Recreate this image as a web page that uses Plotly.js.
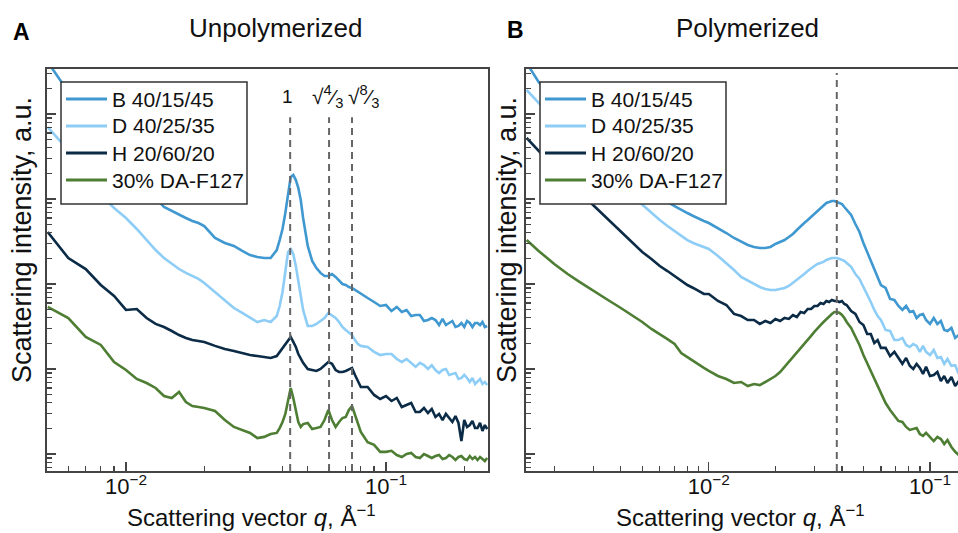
<!DOCTYPE html>
<html>
<head>
<meta charset="utf-8">
<script src="https://cdn.plot.ly/plotly-3.0.1.min.js"></script>
<style>html,body{margin:0;padding:0;background:#fff;}#chart{width:958px;height:533px;}</style>
</head>
<body>
<div id="chart"></div>
<script>
// ---------- Data ----------
const seriesNames = ['B 40/15/45', 'D 40/25/35', 'H 20/60/20', '30% DA-F127'];
const seriesColors = ['#4098d0', '#8dcdf6', '#0b2b46', '#4e7e33'];

// Panel A: unpolymerized
const qA = [0.005,0.006,0.007,0.008,0.009,0.010,0.011,0.012,0.013,0.014,0.015,0.016,0.017,0.018,0.019,0.020,
  0.022,0.024,0.026,0.028,0.030,0.032,0.034,0.036,
  0.038,0.039,0.040,0.041,0.042,0.043,0.044,0.045,0.046,0.047,0.048,
  0.050,0.052,0.054,0.056,0.058,0.060,0.062,0.064,0.066,0.068,0.070,0.072,0.074,0.076,0.078,0.080,
  0.085,0.090,0.095,
  0.100,0.105,0.110,0.115,0.120,0.125,0.130,0.135,0.140,0.145,0.150,0.155,0.160,0.165,0.170,0.175,
  0.180,0.185,0.190,0.195,0.200,0.205,0.210,0.215,0.220,0.225,0.230,0.235,0.240,0.245];
const bA = [40900,18200,10300,6310,3980,2650,1870,1350,1030,805,722,648,598,551,522,481,
  348,304,280,245,219,208,202,202,
  251,329,444,684,1180,1820,1920,1670,1350,973,598,
  280,187,154,135,124,124,131,121,111,100,97.3,92.2,89.8,85.0,80.5,76.3,
  68.4,61.4,55.1,
  56.6,48.1,53.7,46.9,49.5,42.0,43.2,43.2,36.7,37.7,39.8,37.7,32.9,38.8,32.9,34.8,
  36.7,31.2,32.1,34.8,31.2,36.7,34.8,31.2,34.8,34.8,32.9,35.7,31.2,32.1];
const dA = [7030,3770,2320,1110,784,598,444,329,251,202,172,150,135,124,115,103,
  80.5,64.8,52.2,45.6,39.8,35.7,37.7,35.7,
  42.0,55.1,80.5,146,238,258,225,163,109,74.2,49.5,
  32.1,32.1,33.9,36.7,39.8,45.6,42.0,39.8,35.7,31.2,28.8,26.5,25.1,21.9,19.7,18.7,
  18.2,15.9,14.6,
  15.0,15.0,13.1,12.1,13.1,11.8,10.6,11.8,11.1,10.0,11.1,9.73,8.98,9.73,10.0,8.50,
  8.74,8.98,7.63,7.84,8.50,7.84,7.03,7.84,6.66,7.22,7.63,6.66,7.03,6.48];
const hA = [409,202,150,97.3,72.2,49.5,50.8,39.8,33.9,31.2,28.0,25.1,23.2,21.9,21.4,20.8,
  18.7,17.2,16.3,15.4,14.6,14.2,13.8,13.5,
  14.2,15.9,17.7,19.7,21.9,23.8,20.8,18.2,15.0,13.1,11.8,
  10.0,9.73,9.48,10.0,10.9,12.1,11.5,9.73,9.22,9.22,9.48,10.0,10.3,8.50,7.03,6.14,
  6.14,4.95,4.44,
  4.81,4.20,4.56,3.57,3.77,3.98,3.12,3.12,3.48,3.04,3.39,2.73,2.96,2.51,2.96,2.65,
  2.38,2.80,2.32,1.42,2.51,2.08,2.19,2.45,2.02,2.02,2.32,1.87,2.19,1.97];
const fA = [53.7,39.8,23.8,19.2,12.1,9.73,7.63,6.84,5.98,4.81,4.56,5.37,4.09,3.67,3.57,3.48,
  3.21,2.51,2.08,1.92,1.77,1.54,1.59,1.72,
  1.77,2.02,2.38,2.96,4.32,5.98,4.56,3.12,2.38,2.08,2.25,
  2.32,1.97,2.02,2.08,2.51,3.29,2.51,2.08,2.38,2.65,2.73,3.29,3.67,2.88,2.19,1.82,
  1.38,1.28,1.06,
  1.06,1.09,0.973,0.922,1.00,1.03,0.922,0.898,1.00,0.947,0.898,0.947,0.973,0.873,0.898,0.973,
  0.922,0.850,0.922,0.947,0.873,0.850,0.947,0.873,0.922,0.850,0.922,0.873,0.827,0.898];
const peaksA = [0.0428, 0.0604, 0.074];
const peakLabelsA = ['1', '√<sup>4</sup>⁄<sub>3</sub>', '√<sup>8</sup>⁄<sub>3</sub>'];

// Panel B: polymerized
const qB = [0.0015,0.0017,0.002,0.0023,0.0026,0.003,0.0035,0.004,0.0045,0.005,0.0055,0.006,0.0065,0.007,0.0075,0.008,0.0085,0.009,0.0095,
  0.010,0.011,0.012,0.013,0.014,0.015,0.016,0.017,0.018,0.019,0.020,0.021,0.022,0.023,0.024,0.025,0.026,0.027,0.028,0.029,
  0.030,0.031,0.032,0.033,0.034,0.035,0.036,0.037,0.038,0.039,0.040,0.041,0.042,
  0.044,0.046,0.048,0.050,0.052,0.054,0.056,0.058,0.060,
  0.063,0.066,0.069,0.072,0.075,0.078,0.081,0.084,0.087,0.090,0.093,0.096,
  0.100,0.104,0.108,0.112,0.116,0.120,0.125,0.130,0.135];
const bB = [39800,23800,13800,9220,6660,4560,3120,2320,1820,1460,1240,1060,922,827,742,684,631,582,551,
  522,456,398,348,312,288,273,265,265,273,296,312,329,357,388,432,481,522,566,614,
  666,722,784,850,898,922,948,948,922,898,874,805,742,
  648,508,409,304,238,187,146,121,97.3,
  89.8,66.6,64.8,55.1,49.5,55.1,46.9,48.1,39.8,43.2,44.4,37.7,
  33.9,39.8,33.9,36.7,28.8,28.0,30.4,23.2,25.1];
const dB = [19200,13500,8500,5820,4320,3040,2080,1460,1090,850,684,566,481,420,367,329,304,288,273,
  258,214,177,146,121,109,100,92.2,87.4,85.0,85.0,87.4,89.8,94.8,103,111,121,131,142,154,
  163,172,177,182,192,197,202,202,202,197,192,187,177,
  159,131,115,92.2,76.3,61.4,49.5,42.0,37.7,
  28.8,28.0,21.9,21.9,23.2,19.2,18.2,19.7,18.7,15.9,18.7,15.9,
  14.6,16.7,13.5,13.8,11.5,13.1,10.9,11.1,8.74];
const hB = [5220,3670,2320,1590,1210,850,566,409,304,238,197,163,142,124,109,97.3,89.8,82.7,76.3,
  76.3,63.1,56.6,44.4,42.0,37.7,37.7,33.9,36.7,34.8,38.8,36.7,39.8,38.8,43.2,40.9,46.9,45.6,50.8,50.8,
  55.1,55.1,59.8,58.2,63.1,61.4,64.8,63.1,63.1,61.4,63.1,58.2,56.6,
  48.1,44.4,35.7,32.9,25.8,25.8,20.2,21.9,17.7,
  17.7,14.2,15.9,13.5,11.5,13.5,10.9,10.0,11.5,10.3,8.74,10.6,
  8.27,8.50,9.22,7.22,8.27,6.84,8.05,6.31,7.22];
const fB = [329,245,172,131,106,82.7,64.8,52.2,43.2,35.7,29.6,25.8,22.5,19.7,15.4,13.8,12.4,11.1,10.3,
  9.48,8.27,7.63,6.84,7.03,6.31,6.66,6.48,7.03,7.63,8.27,9.22,10.6,12.1,13.5,15.4,17.7,19.7,21.9,24.5,
  27.3,30.4,32.9,35.7,38.8,42.0,44.4,46.9,46.9,45.6,43.2,39.8,35.7,
  30.4,24.5,19.2,14.6,11.8,9.48,7.63,6.31,5.22,
  3.98,3.29,2.80,2.45,2.38,2.08,1.92,1.97,2.02,1.72,1.63,1.77,
  1.59,1.42,1.59,1.50,1.31,1.46,1.21,1.06,0.973];
const peaksB = [0.0379];

// Axis tick values (decades carry the labels)
const decadeVals = [0.0001, 0.001, 0.01, 0.1, 1, 10, 100, 1000, 10000, 100000];
const decadeText = ['10<sup>−4</sup>', '10<sup>−3</sup>', '10<sup>−2</sup>', '10<sup>−1</sup>', '10<sup>0</sup>',
  '10<sup>1</sup>', '10<sup>2</sup>', '10<sup>3</sup>', '10<sup>4</sup>', '10<sup>5</sup>'];

// ---------- Figure ----------
const FONT = 'Liberation Sans, Arial, Helvetica, sans-serif';
const AXC = '#444';
const seriesA = [bA, dA, hA, fA];
const seriesB = [bB, dB, hB, fB];
const traces = [];
seriesA.forEach((ys, i) => traces.push({
  x: qA, y: ys, type: 'scatter', mode: 'lines', name: seriesNames[i], showlegend: false,
  line: {color: seriesColors[i], width: 2.6}, xaxis: 'x', yaxis: 'y'
}));
seriesB.forEach((ys, i) => traces.push({
  x: qB, y: ys, type: 'scatter', mode: 'lines', name: seriesNames[i], showlegend: false,
  line: {color: seriesColors[i], width: 2.6}, xaxis: 'x2', yaxis: 'y2'
}));
// empty traces that carry the overlaid tick axes (decade ticks and minor ticks)
[['x3', 'y3'], ['x4', 'y4'], ['x5', 'y5'], ['x6', 'y6']].forEach(([xa, ya]) =>
  traces.push({x: [], y: [], type: 'scatter', mode: 'lines', showlegend: false, xaxis: xa, yaxis: ya}));

const X_A = [-2.3038, -0.6077], X_B = [-2.8267, -0.8733], Y_R = [-0.2, 4.5294];

function minorIn(lo, hi) {
  const v = [];
  for (let e = Math.floor(lo) - 1; e <= Math.ceil(hi); e++)
    for (let m = 2; m <= 9; m++) {
      const val = m * Math.pow(10, e), l = Math.log10(val);
      if (l > lo + 0.004 && l < hi - 0.004) v.push(val);
    }
  return v;
}

function frameX(domain, range, anchor) {
  return {type: 'log', domain: domain, range: range, anchor: anchor,
    showline: true, linecolor: AXC, linewidth: 1.6, mirror: true, showgrid: false, zeroline: false,
    ticks: '', showticklabels: false};
}
function frameY(anchor, mirror) {
  return {type: 'log', domain: [0, 1], range: Y_R, anchor: anchor,
    showline: true, linecolor: AXC, linewidth: 1.6, mirror: mirror, showgrid: false, zeroline: false,
    ticks: '', showticklabels: false};
}
function tickX(over, range, anchor, vals, text, len, w) {
  const a = {type: 'log', overlaying: over, range: range, anchor: anchor, side: 'bottom',
    showline: false, showgrid: false, zeroline: false,
    tickmode: 'array', tickvals: vals, ticks: 'inside', ticklen: len, tickwidth: w, tickcolor: AXC,
    tickfont: {family: FONT, size: 22, color: '#111'}};
  if (text) a.ticktext = text; else a.showticklabels = false;
  return a;
}
function tickY(over, anchor, vals, len, w) {
  return {type: 'log', overlaying: over, range: Y_R, anchor: anchor, side: 'left',
    showline: false, showgrid: false, zeroline: false, showticklabels: false,
    tickmode: 'array', tickvals: vals, ticks: 'inside', ticklen: len, tickwidth: w, tickcolor: AXC};
}

const shapes = [];
peaksA.forEach(p => shapes.push({type: 'line', xref: 'x', yref: 'y domain', x0: p, x1: p, y0: 0, y1: 0.88,
  line: {color: '#666', width: 2, dash: '7px,5px'}}));
peaksB.forEach(p => shapes.push({type: 'line', xref: 'x2', yref: 'y2 domain', x0: p, x1: p, y0: 0, y1: 0.99,
  line: {color: '#666', width: 2, dash: '7px,5px'}}));

const annotations = [
  {text: 'Unpolymerized', xref: 'paper', yref: 'paper', x: 0.2503, y: 1.102, showarrow: false,
   xanchor: 'center', yanchor: 'middle', font: {family: FONT, size: 26, color: '#111'}},
  {text: 'Polymerized', xref: 'paper', yref: 'paper', x: 0.7684, y: 1.102, showarrow: false,
   xanchor: 'center', yanchor: 'middle', font: {family: FONT, size: 26, color: '#111'}},
  {text: '<b>A</b>', xref: 'paper', yref: 'paper', x: -0.0285, y: 1.092, showarrow: false,
   xanchor: 'center', yanchor: 'middle', font: {family: FONT, size: 23, color: '#000'}},
  {text: '<b>B</b>', xref: 'paper', yref: 'paper', x: 0.5148, y: 1.097, showarrow: false,
   xanchor: 'center', yanchor: 'middle', font: {family: FONT, size: 23, color: '#000'}},
  {text: 'Scattering vector <i>q</i>, Å<sup>−1</sup>', xref: 'paper', yref: 'paper', x: 0.2250, y: -0.1542,
   showarrow: false, xanchor: 'center', yanchor: 'bottom', font: {family: FONT, size: 24, color: '#111'}},
  {text: 'Scattering vector <i>q</i>, Å<sup>−1</sup>', xref: 'paper', yref: 'paper', x: 0.7618, y: -0.1542,
   showarrow: false, xanchor: 'center', yanchor: 'bottom', font: {family: FONT, size: 24, color: '#111'}},
  {text: 'Scattering intensity, a.u.', xref: 'paper', yref: 'paper', x: -0.0274, y: 0.5746, textangle: -90,
   showarrow: false, xanchor: 'center', yanchor: 'middle', font: {family: FONT, size: 27, color: '#111'}},
  {text: 'Scattering intensity, a.u.', xref: 'paper', yref: 'paper', x: 0.5050, y: 0.5746, textangle: -90,
   showarrow: false, xanchor: 'center', yanchor: 'middle', font: {family: FONT, size: 27, color: '#111'}}
];
const labelShift = [-3, -2, 11];
const labelSize = [19, 21, 21];
peaksA.forEach((p, i) => annotations.push({text: peakLabelsA[i], xref: 'x', yref: 'paper', x: Math.log10(p), y: 0.932,
  xshift: labelShift[i], showarrow: false, xanchor: 'center', yanchor: 'middle',
  font: {family: FONT, size: labelSize[i], color: '#111'}}));

// ---------- Legends (one box per panel) ----------
const px = v => (v - 47) / 911;      // pixel -> paper x
const py = v => (471 - v) / 402;     // pixel -> paper y
const legendRows = [99, 126, 153, 180];
[61, 540].forEach(left => {
  shapes.push({type: 'rect', xref: 'paper', yref: 'paper', x0: px(left), x1: px(left + 186), y0: py(204), y1: py(82),
    fillcolor: '#fff', line: {color: '#333', width: 1.5}, layer: 'above'});
  seriesNames.forEach((nm, i) => {
    shapes.push({type: 'line', xref: 'paper', yref: 'paper', x0: px(left + 5), x1: px(left + 46),
      y0: py(legendRows[i]), y1: py(legendRows[i]), line: {color: seriesColors[i], width: 3}, layer: 'above'});
    annotations.push({text: nm, xref: 'paper', yref: 'paper', x: px(left + 49), y: py(legendRows[i]),
      xanchor: 'left', yanchor: 'middle', showarrow: false, font: {family: FONT, size: 21, color: '#111'}});
  });
});

const layout = {
  width: 958, height: 533,
  margin: {l: 47, r: 0, t: 69, b: 62},
  paper_bgcolor: '#fff', plot_bgcolor: 'rgba(0,0,0,0)',
  showlegend: false,
  xaxis: frameX([0, 0.48408], X_A, 'y'),
  yaxis: frameY('x', true),
  xaxis2: frameX([0.52580, 1], X_B, 'y2'),
  yaxis2: frameY('x2', false),
  // decade (long, labelled) ticks
  xaxis3: tickX('x', X_A, 'y', decadeVals, decadeText, 9, 1.3),
  yaxis3: tickY('y', 'x', decadeVals, 9, 1.3),
  xaxis4: tickX('x2', X_B, 'y2', decadeVals, decadeText, 9, 1.3),
  yaxis4: tickY('y2', 'x2', decadeVals, 9, 1.3),
  // minor (short) ticks
  xaxis5: tickX('x', X_A, 'y', minorIn(X_A[0], X_A[1]), null, 5, 1.3),
  yaxis5: tickY('y', 'x', minorIn(Y_R[0], Y_R[1]), 5, 1.3),
  xaxis6: tickX('x2', X_B, 'y2', minorIn(X_B[0], X_B[1]), null, 5, 1.3),
  yaxis6: tickY('y2', 'x2', minorIn(Y_R[0], Y_R[1]), 5, 1.3),
  shapes: shapes,
  annotations: annotations
};

Plotly.newPlot('chart', traces, layout, {displayModeBar: false, staticPlot: true});
</script>
</body>
</html>
